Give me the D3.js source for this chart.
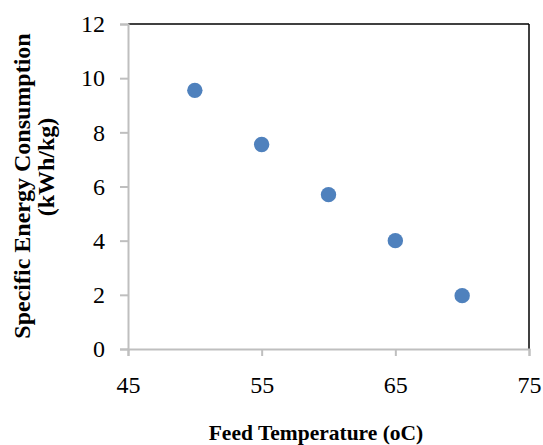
<!DOCTYPE html>
<html><head><meta charset="utf-8">
<script src="https://cdn.jsdelivr.net/npm/d3@7"></script>
<style>body{margin:0;background:#fff}svg{display:block}</style>
</head><body>
<script>
const temps = [50, 55, 60, 65, 70];
const sec = [9.55, 7.55, 5.7, 4.0, 1.97];
const xTicks = [45, 55, 65, 75];
const yTicks = [0, 2, 4, 6, 8, 10, 12];

const W = 543, H = 445;
const m = {l:128, r:14, t:24, b:96};
const FONT = "Liberation Serif";
const svg = d3.select("body").append("svg").attr("width", W).attr("height", H)
  .attr("font-family", FONT);
const x = d3.scaleLinear().domain([45, 75]).range([m.l, W - m.r]);
const y = d3.scaleLinear().domain([0, 12]).range([H - m.b, m.t]);

svg.append("line").attr("x1", x(45)).attr("x2", x(75)).attr("y1", y(12)).attr("y2", y(12)).attr("stroke", "#000").attr("stroke-width", 1.5);
svg.append("line").attr("x1", x(75)).attr("x2", x(75)).attr("y1", y(12)).attr("y2", y(0)).attr("stroke", "#000").attr("stroke-width", 1.5);

const gx = svg.append("g").attr("transform", `translate(0,${y(0)})`)
  .call(d3.axisBottom(x).tickValues(xTicks).tickSize(7).tickPadding(20).tickFormat(d3.format("d")));
const gy = svg.append("g").attr("transform", `translate(${x(45)},0)`)
  .call(d3.axisLeft(y).tickValues(yTicks).tickSize(8).tickPadding(15).tickFormat(d3.format("d")));
[gx, gy].forEach(g => {
  g.attr("font-family", FONT).attr("font-size", 24);
  g.select(".domain").attr("stroke", "#bfbfbf").attr("stroke-width", 2);
  g.selectAll(".tick line").attr("stroke", "#bfbfbf").attr("stroke-width", 2);
  g.selectAll("text").attr("fill", "#000");
});

svg.append("g").selectAll("circle").data(temps.map((t, i) => [t, sec[i]])).join("circle")
  .attr("cx", d => x(d[0])).attr("cy", d => y(d[1])).attr("r", 7.7).attr("fill", "#4f81bd");

svg.append("text").attr("x", 316).attr("y", 440)
  .attr("text-anchor", "middle").attr("font-weight", "bold").attr("font-size", 21.5)
  .text("Feed Temperature (oC)");

const yt = svg.append("g").attr("font-weight", "bold").attr("font-size", 24).attr("text-anchor", "middle");
yt.append("text").attr("transform", "translate(30,186) rotate(-90)").text("Specific Energy Consumption");
yt.append("text").attr("transform", "translate(54,167) rotate(-90)").text("(kWh/kg)");
</script>
</body></html>
